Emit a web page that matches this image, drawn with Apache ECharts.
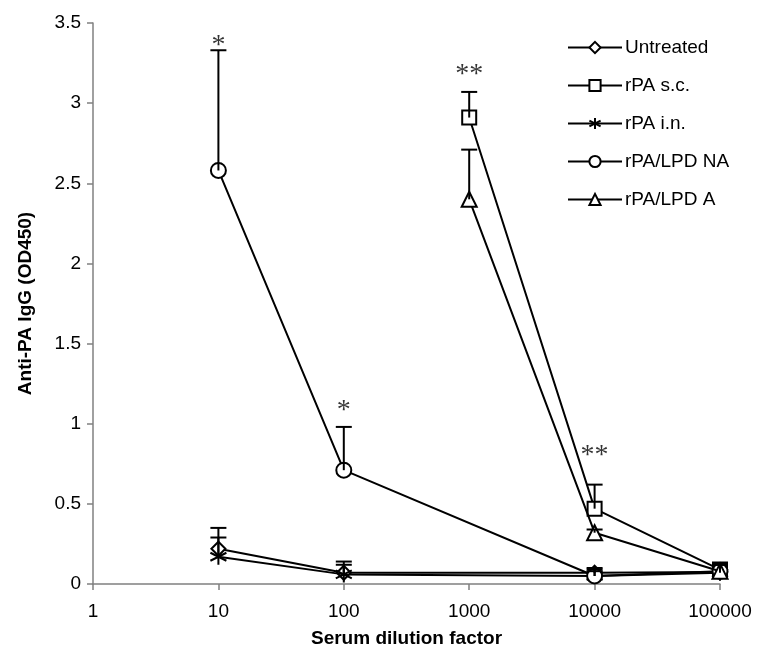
<!DOCTYPE html>
<html><head><meta charset="utf-8">
<script src="https://cdn.jsdelivr.net/npm/echarts@6/dist/echarts.min.js"></script>
<style>html,body{margin:0;padding:0;background:#fff}#c{width:760px;height:658px}</style>
</head><body><div id="c"></div>
<script>
const dilutions = [10, 100, 1000, 10000, 100000];
const xTickLabels = ['1', '10', '100', '1000', '10000', '100000'];
const seriesNames = ['Untreated', 'rPA s.c.', 'rPA i.n.', 'rPA/LPD NA', 'rPA/LPD A'];
const untreated    = [0.22, 0.07, null, 0.07, 0.075];
const untreatedErr = [0.13, 0.07, null, 0.03, 0.05];
const rpaSc        = [null, null, 2.91, 0.47, 0.09];
const rpaScErr     = [null, null, 0.16, 0.15, 0.04];
const rpaIn        = [0.17, 0.06, null, 0.05, 0.07];
const rpaInErr     = [0.12, 0.06, null, 0.04, 0.05];
const lpdNa        = [2.58, 0.71, null, 0.05, 0.08];
const lpdNaErr     = [0.75, 0.27, null, 0.03, 0.05];
const lpdA         = [null, null, 2.40, 0.32, 0.08];
const lpdAErr      = [null, null, 0.31, 0.02, 0.04];
const annotX     = [10, 100, 1000, 10000];
const annotY     = [3.36, 1.08, 3.18, 0.80];
const annotText  = ['*', '*', '**', '**'];

const values = [untreated, rpaSc, rpaIn, lpdNa, lpdA];
const errs = [untreatedErr, rpaScErr, rpaInErr, lpdNaErr, lpdAErr];
const symbols = ['diamond', 'rect', 'path://M0,-10L0,10M-8.7,-5L8.7,5M-8.7,5L8.7,-5', 'circle', 'triangle'];
const symbolSizes = [14, 14, 16, 15, 15];

const lineSeries = values.map((v, i) => ({
  name: seriesNames[i],
  type: 'line',
  data: dilutions.map((x, j) => [x, v[j]]).filter(p => p[1] != null),
  symbol: symbols[i],
  symbolSize: symbolSizes[i],
  showAllSymbol: true,
  lineStyle: { color: '#000', width: 2 },
  itemStyle: { color: '#fff', borderColor: '#000', borderWidth: 2 },
  z: 3 + i
}));

const errData = [];
values.forEach((v, i) => {
  dilutions.forEach((x, j) => {
    if (v[j] != null && errs[i][j] != null) errData.push([x, v[j], errs[i][j]]);
  });
});

const errSeries = {
  type: 'custom',
  name: 'err',
  data: errData,
  encode: { x: 0, y: 1 },
  z: 10,
  renderItem: function (params, api) {
    const x = api.value(0), y = api.value(1), e = api.value(2);
    const p0 = api.coord([x, y]);
    const p1 = api.coord([x, y + e]);
    const style = { stroke: '#000', lineWidth: 2 };
    return {
      type: 'group',
      children: [
        { type: 'line', shape: { x1: p0[0], y1: p0[1], x2: p1[0], y2: p1[1] }, style: style },
        { type: 'line', shape: { x1: p1[0] - 8, y1: p1[1], x2: p1[0] + 8, y2: p1[1] }, style: style }
      ]
    };
  }
};

const annotSeries = {
  type: 'scatter',
  name: 'annot',
  data: annotX.map((x, i) => ({ value: [x, annotY[i]], name: annotText[i] })),
  symbolSize: 1,
  itemStyle: { color: 'rgba(0,0,0,0)' },
  label: {
    show: true, position: 'inside', formatter: p => p.name,
    fontFamily: 'Liberation Serif', fontSize: 28, color: '#000'
  },
  z: 12
};

const chart = echarts.init(document.getElementById('c'), null, { renderer: 'canvas' });
chart.setOption({
  animation: false,
  backgroundColor: '#fff',
  grid: { left: 93, right: 40, top: 23, bottom: 74, containLabel: false },
  xAxis: {
    type: 'log', logBase: 10, min: 1, max: 100000,
    name: 'Serum dilution factor', nameLocation: 'middle', nameGap: 45,
    nameTextStyle: { fontFamily: 'Liberation Sans', fontWeight: 'bold', fontSize: 19, color: '#000' },
    axisLine: { lineStyle: { color: '#808080', width: 1.5 } },
    axisTick: { show: true, length: 6, inside: false, lineStyle: { color: '#808080', width: 1.5 } },
    axisLabel: {
      fontFamily: 'Liberation Sans', fontSize: 19, color: '#000', margin: 18,
      formatter: function (v) { const k = Math.round(Math.log10(v)); return xTickLabels[k] != null ? xTickLabels[k] : ''; }
    },
    splitLine: { show: false }, minorTick: { show: false }
  },
  yAxis: {
    type: 'value', min: 0, max: 3.5, interval: 0.5,
    name: 'Anti-PA IgG (OD450)', nameLocation: 'middle', nameGap: 58, nameRotate: 90,
    nameTextStyle: { fontFamily: 'Liberation Sans', fontWeight: 'bold', fontSize: 19, color: '#000' },
    axisLine: { show: true, lineStyle: { color: '#808080', width: 1.5 } },
    axisTick: { show: true, length: 6, lineStyle: { color: '#808080', width: 1.5 } },
    axisLabel: { fontFamily: 'Liberation Sans', fontSize: 19, color: '#000', margin: 12 },
    splitLine: { show: false }
  },
  legend: {
    data: seriesNames,
    orient: 'vertical',
    left: 562, top: 33,
    itemWidth: 54, itemHeight: 14, itemGap: 19,
    textStyle: { fontFamily: 'Liberation Sans', fontSize: 19, color: '#000', padding: [0, 0, 0, -2] }
  },
  series: [...lineSeries, errSeries, annotSeries]
});
</script></body></html>
